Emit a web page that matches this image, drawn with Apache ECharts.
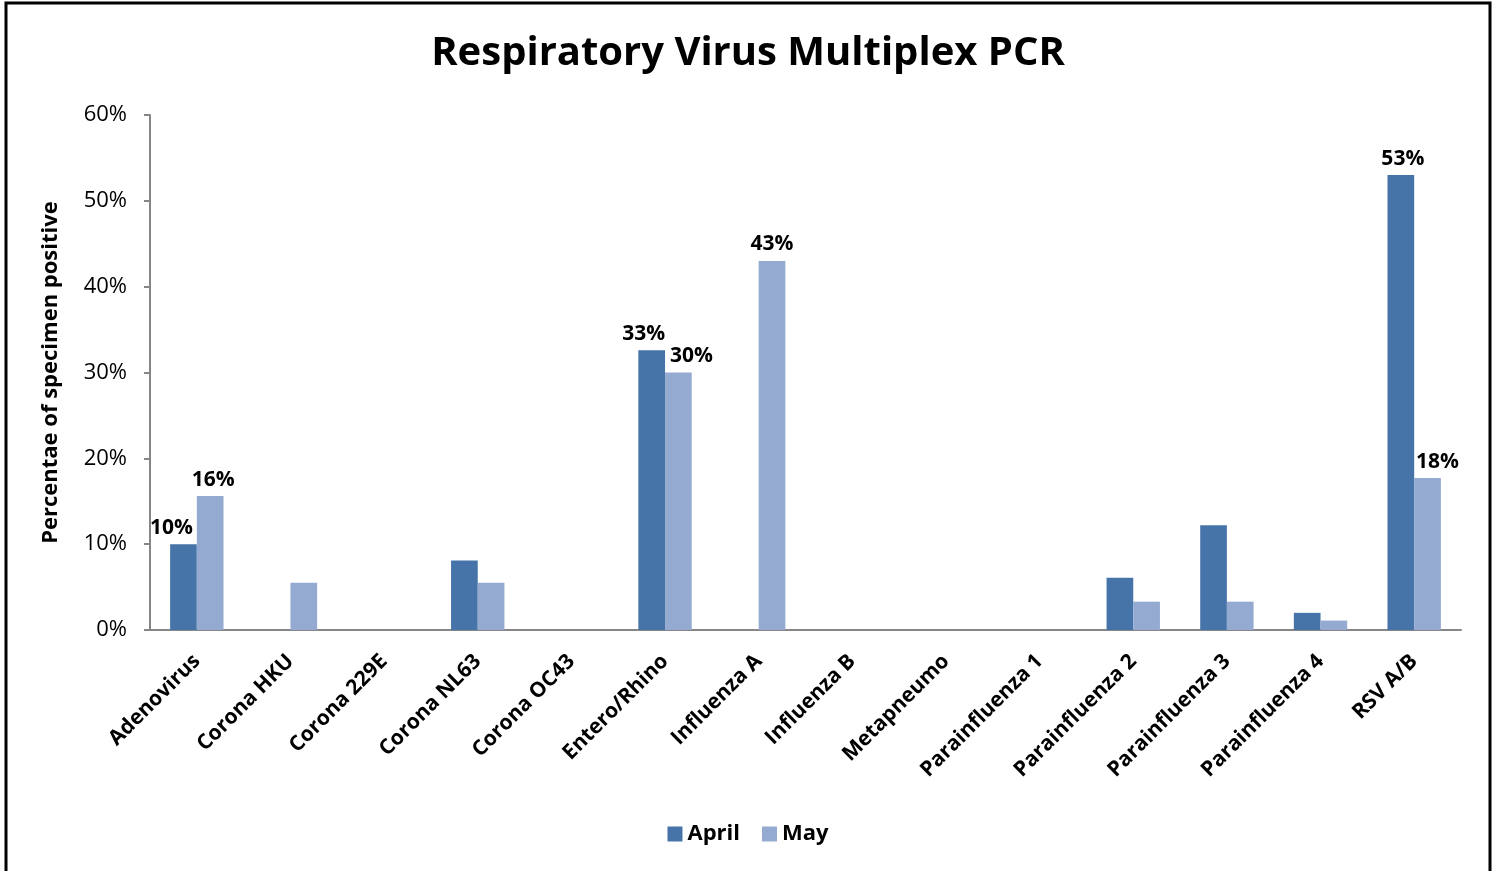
<!DOCTYPE html>
<html><head><meta charset="utf-8">
<script src="https://cdn.jsdelivr.net/npm/echarts@6/dist/echarts.min.js"></script>
<style>html,body{margin:0;padding:0;background:#fff}#c{width:1496px;height:871px}</style>
</head><body><div id="c"></div>
<script>
const categories = ['Adenovirus','Corona HKU','Corona 229E','Corona NL63','Corona OC43','Entero/Rhino','Influenza A','Influenza B','Metapneumo','Parainfluenza 1','Parainfluenza 2','Parainfluenza 3','Parainfluenza 4','RSV A/B'];
const april = [10, 0, 0, 8.1, 0, 32.6, 0, 0, 0, 0, 6.1, 12.2, 2.0, 53.0];
const may = [15.6, 5.5, 0, 5.5, 0, 30.0, 43.0, 0, 0, 0, 3.3, 3.3, 1.1, 17.7];
const aprilLabels = [true,false,false,false,false,true,false,false,false,false,false,false,false,true];
const mayLabels = [true,false,false,false,false,true,true,false,false,false,false,false,false,true];
// horizontal nudges of the data labels (layout only)
const aprilLabelShift = [-12,0,0,0,0,-8,0,0,0,0,0,0,0,2];
const mayLabelShift = [3,0,0,0,0,13,0,0,0,0,0,0,0,10];

const font = "'Open Sans', 'Liberation Sans', sans-serif";
function mk(vals, flags, shifts){
  return vals.map((v,i)=>({value:v, label:{show:flags[i], offset:[shifts[i],0]}}));
}
const chart = echarts.init(document.getElementById('c'));
chart.setOption({
  animation:false,
  backgroundColor:'#fff',
  graphic:[{type:'rect',shape:{x:6,y:3,width:1484,height:880},style:{fill:'none',stroke:'#000',lineWidth:3},z:-1}],
  title:{text:'Respiratory Virus Multiplex PCR',left:'center',top:29,textStyle:{fontFamily:font,fontWeight:'bold',fontSize:40,color:'#000'}},
  legend:{bottom:21,left:'center',itemWidth:15,itemHeight:15,icon:'rect',itemGap:22,textStyle:{fontFamily:font,fontWeight:'bold',fontSize:22,color:'#000'},data:['April','May']},
  grid:{left:150,right:35,top:115,bottom:241,containLabel:false},
  xAxis:{type:'category',data:categories,
    axisLine:{lineStyle:{color:'#868686',width:2}},
    axisTick:{show:false},
    axisLabel:{rotate:45,interval:0,fontFamily:font,fontWeight:'bold',fontSize:21,color:'#000',margin:28}},
  yAxis:{type:'value',min:0,max:60,interval:10,
    name:'Percentae of specimen positive',nameLocation:'middle',nameGap:88,nameRotate:90,
    nameTextStyle:{fontFamily:font,fontWeight:'bold',fontSize:22,color:'#000'},
    axisLine:{show:true,lineStyle:{color:'#868686',width:2}},
    axisTick:{show:true,inside:false,length:6,lineStyle:{color:'#868686',width:2}},
    splitLine:{show:false},
    axisLabel:{formatter:v=>v+'%',fontFamily:font,fontSize:22,color:'#000',margin:23}},
  series:[
    {name:'April',type:'bar',data:mk(april,aprilLabels,aprilLabelShift),barGap:'0%',barCategoryGap:'43%',
     itemStyle:{color:'#4674A9'},
     label:{position:'top',formatter:p=>Math.round(p.value)+'%',fontFamily:font,fontWeight:'bold',fontSize:21,color:'#000',distance:6}},
    {name:'May',type:'bar',data:mk(may,mayLabels,mayLabelShift),barGap:'0%',barCategoryGap:'43%',
     itemStyle:{color:'#95AAD1'},
     label:{position:'top',formatter:p=>Math.round(p.value)+'%',fontFamily:font,fontWeight:'bold',fontSize:21,color:'#000',distance:6}}
  ]
});
</script></body></html>
